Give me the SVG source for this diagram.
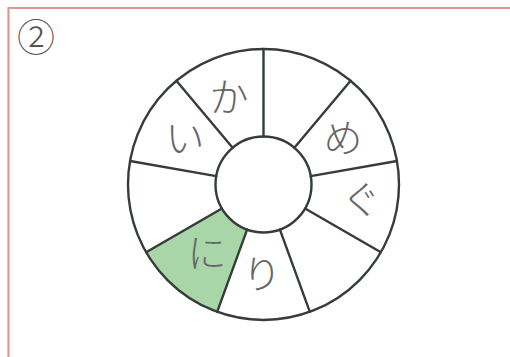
<svg xmlns="http://www.w3.org/2000/svg" width="510" height="357" viewBox="0 0 510 357">
<style>
.ln{stroke:#363c39;stroke-width:2.4;fill:none;stroke-linecap:round}
.lbl{font-family:"Noto Sans CJK JP","Noto Sans",sans-serif;font-size:39px;font-weight:300;fill:#666;text-anchor:middle}
.frame{stroke:#e39495;stroke-width:2.2;fill:none}
</style>
<rect width="510" height="357" fill="#fff"/>
<g id="frame">
<path class="frame" d="M510,8 L8.5,8 L8.5,357"/>
<text x="36" y="51" style="font-family:'Noto Sans CJK JP','Noto Sans',sans-serif;font-size:38px;font-weight:300;fill:#555;text-anchor:middle">②</text>
</g>
<g id="wheel">
<circle cx="263.5" cy="184.5" r="135.5" fill="#fff"/>
<path id="sector-ni" d="M247.08,229.61 L217.16,311.83 A135.5,135.5 0 0 1 146.16,252.25 L221.93,208.5 A48,48 0 0 0 247.08,229.61 Z" fill="#a9d6a9"/>
<circle class="ln" cx="263.5" cy="184.5" r="135.5"/>
<circle class="ln" cx="263.5" cy="184.5" r="48" fill="#fff"/>
</g>
<g id="connectors">
<line class="ln" x1="263.5" y1="136.5" x2="263.5" y2="49"/>
<line class="ln" x1="294.35" y1="147.73" x2="350.6" y2="80.71"/>
<line class="ln" x1="310.77" y1="176.17" x2="396.94" y2="160.98"/>
<line class="ln" x1="305.07" y1="208.5" x2="380.84" y2="252.25"/>
<line class="ln" x1="279.92" y1="229.61" x2="309.84" y2="311.83"/>
<line class="ln" x1="247.08" y1="229.61" x2="217.16" y2="311.83"/>
<line class="ln" x1="221.93" y1="208.5" x2="146.16" y2="252.25"/>
<line class="ln" x1="216.23" y1="176.17" x2="130.06" y2="160.98"/>
<line class="ln" x1="232.65" y1="147.73" x2="176.4" y2="80.71"/>
</g>
<g id="labels">
<text class="lbl" x="229" y="111">か</text>
<text class="lbl" x="185" y="152">い</text>
<text class="lbl" x="343" y="152">め</text>
<text class="lbl" x="361" y="214">ぐ</text>
<text class="lbl" x="262" y="288">り</text>
<text class="lbl" x="207" y="267">に</text>
</g>
</svg>
